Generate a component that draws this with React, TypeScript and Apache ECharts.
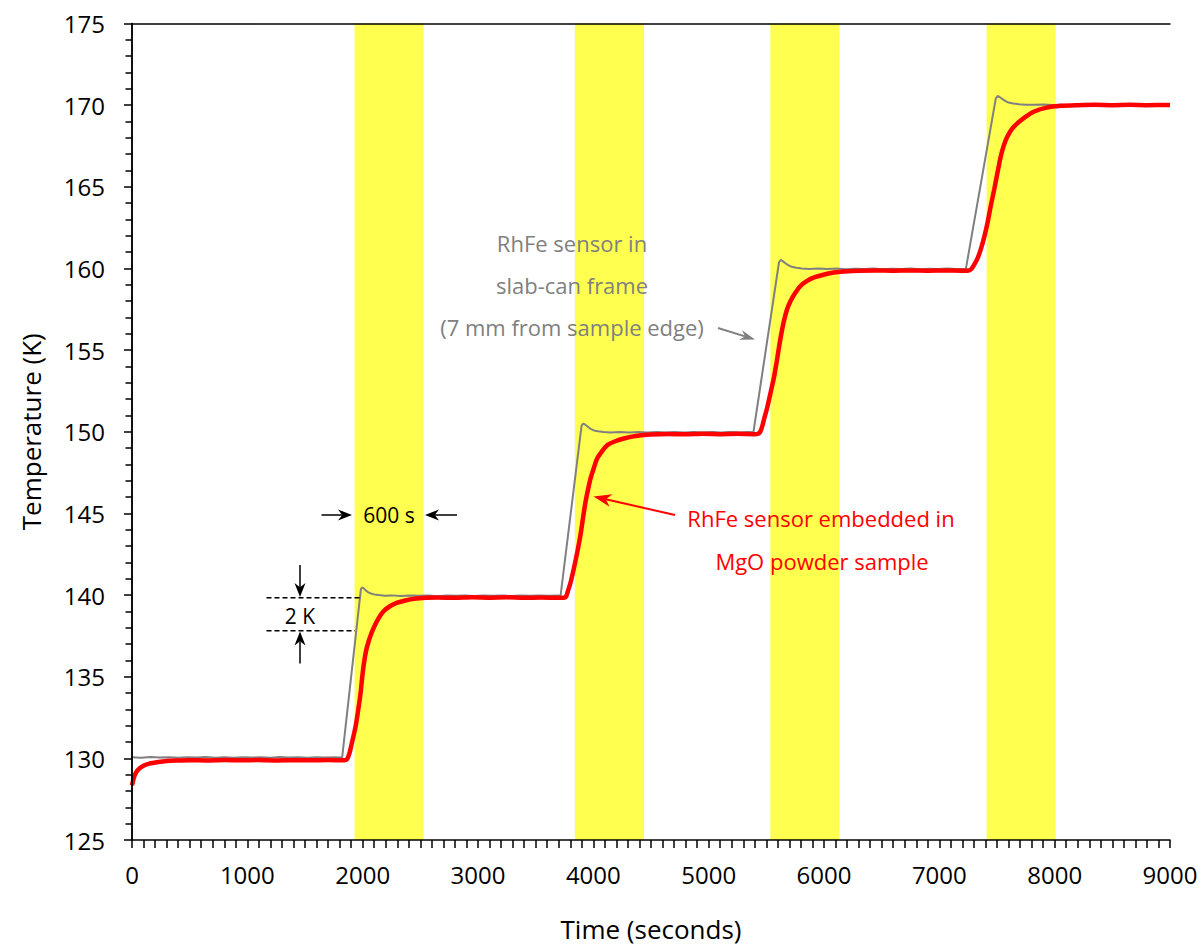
import React, { useEffect, useRef } from "react";
import * as echarts from "echarts";

// ---- Data ----
const bandStart = [1930, 3840, 5535, 7410];
const bandWidth = 600;

const grayTime = [
  0, 80, 160, 240, 320, 400, 480, 560, 640, 720, 800, 880, 960, 1040, 1120, 1200, 1280, 1360, 1440, 1520, 1600, 1680, 1760, 1822,
  1985, 1995, 2008, 2025, 2045, 2070, 2100, 2140, 2190, 2250, 2330, 2410, 2490, 2570, 2650, 2730, 2810, 2890, 2970, 3050, 3130, 3210, 3290, 3370, 3450, 3530, 3610, 3680, 3716,
  3898, 3912, 3928, 3950, 3975, 4005, 4040, 4090, 4150, 4230, 4310, 4390, 4470, 4550, 4630, 4710, 4790, 4870, 4950, 5030, 5110, 5190, 5270, 5340, 5388,
  5610, 5625, 5642, 5665, 5690, 5720, 5760, 5810, 5870, 5950, 6030, 6110, 6190, 6270, 6350, 6430, 6510, 6590, 6670, 6750, 6830, 6910, 6990, 7070, 7150, 7230,
  7490, 7505, 7522, 7545, 7570, 7600, 7640, 7690, 7750, 7820, 7900, 7980, 8060, 8140, 8220, 8300, 8380, 8460, 8540, 8620, 8700, 8780, 8860, 8940, 9000,
];
const grayTemp = [
  130.06, 130.04, 130.08, 130.05, 130.07, 130.03, 130.06, 130.05, 130.08, 130.04, 130.06, 130.03, 130.07, 130.05, 130.06, 130.04, 130.08, 130.05, 130.06, 130.03, 130.07, 130.05, 130.06, 130.05,
  140.38, 140.46, 140.42, 140.3, 140.18, 140.1, 140.04, 140.0, 139.96, 139.98, 139.94, 139.97, 139.95, 139.98, 139.93, 139.97, 139.95, 139.98, 139.94, 139.97, 139.95, 139.98, 139.94, 139.97, 139.95, 139.98, 139.96, 139.97, 139.96,
  150.38, 150.5, 150.45, 150.32, 150.18, 150.08, 150.03, 149.99, 149.96, 149.98, 149.95, 149.98, 149.96, 149.99, 149.95, 149.98, 149.96, 149.99, 149.95, 149.98, 149.96, 149.99, 149.96, 149.98, 149.97,
  160.38, 160.52, 160.45, 160.32, 160.2, 160.1, 160.04, 160.0, 159.97, 159.99, 159.96, 159.99, 159.95, 159.98, 159.96, 159.99, 159.95, 159.98, 159.96, 159.99, 159.95, 159.98, 159.96, 159.99, 159.96, 159.97,
  170.42, 170.56, 170.5, 170.38, 170.26, 170.16, 170.1, 170.06, 170.03, 170.02, 170.04, 170.01, 170.03, 170.0, 170.04, 170.02, 170.0, 170.03, 170.01, 170.04, 170.02, 170.0, 170.03, 170.01, 170.02,
];

const redTime = [
  0, 15, 30, 60, 100, 150, 230, 300, 380, 500, 650, 800, 950, 1100, 1250, 1400, 1550, 1700, 1840,
  1865, 1885, 1905, 1925, 1940, 1960, 1981, 1995, 2010, 2030, 2053, 2075, 2096, 2140, 2183, 2240, 2300, 2370, 2445, 2550, 2650, 2800, 2950, 3100, 3250, 3400, 3550, 3700, 3745,
  3765, 3782, 3802, 3832, 3860, 3889, 3910, 3933, 3955, 3976, 4005, 4034, 4075, 4121, 4190, 4265, 4380, 4500, 4650, 4800, 4950, 5100, 5250, 5400, 5425,
  5445, 5463, 5485, 5509, 5540, 5567, 5590, 5610, 5630, 5653, 5680, 5711, 5750, 5798, 5850, 5914, 6030, 6146, 6300, 6450, 6600, 6750, 6900, 7050, 7200, 7255,
  7278, 7300, 7330, 7360, 7390, 7418, 7445, 7476, 7505, 7533, 7560, 7591, 7630, 7678, 7750, 7823, 7930, 8054, 8200, 8350, 8500, 8650, 8800, 9000,
];
const redTemp = [
  128.35, 128.78, 129.07, 129.35, 129.55, 129.68, 129.78, 129.84, 129.87, 129.89, 129.87, 129.9, 129.88, 129.9, 129.87, 129.89, 129.88, 129.9, 129.88,
  129.95, 130.3, 130.9, 131.5, 132.0, 132.9, 133.94, 134.9, 135.77, 136.6, 137.2, 137.65, 138.0, 138.6, 139.02, 139.33, 139.53, 139.67, 139.77, 139.83, 139.85, 139.83, 139.86, 139.84, 139.86, 139.83, 139.85, 139.83, 139.84,
  139.92, 140.3, 140.75, 141.66, 142.6, 143.7, 144.7, 145.73, 146.5, 147.15, 147.8, 148.37, 148.8, 149.18, 149.42, 149.59, 149.75, 149.83, 149.86, 149.84, 149.87, 149.85, 149.87, 149.85, 149.87,
  149.97, 150.3, 150.9, 151.52, 152.5, 153.35, 154.3, 155.18, 156.0, 156.8, 157.5, 158.02, 158.5, 158.94, 159.22, 159.45, 159.68, 159.8, 159.86, 159.88, 159.86, 159.88, 159.86, 159.88, 159.86, 159.87,
  159.97, 160.2, 160.6, 161.18, 161.95, 162.8, 163.8, 164.84, 165.9, 166.87, 167.55, 168.09, 168.55, 168.9, 169.3, 169.61, 169.85, 169.96, 170.0, 170.02, 170.0, 170.02, 170.0, 170.01,
];

const FONT = '"Open Sans", "Noto Sans", sans-serif';
const GRAY = "#808080";
const RED = "#ff0000";
const YELLOW = "#ffff4f";

function arrow(x1: number, y1: number, x2: number, y2: number, color: string, lw: number, hl: number, hw: number) {
  const dx = x2 - x1, dy = y2 - y1;
  const len = Math.hypot(dx, dy);
  const ux = dx / len, uy = dy / len;
  const px = -uy, py = ux;
  const bx = x2 - ux * hl, by = y2 - uy * hl;
  const nx = x2 - ux * hl * 0.7, ny = y2 - uy * hl * 0.7;
  return [
    { type: "line", silent: true, z: 100, shape: { x1, y1, x2: nx, y2: ny }, style: { stroke: color, lineWidth: lw } },
    {
      type: "polygon", silent: true, z: 100,
      shape: { points: [[x2, y2], [bx + (px * hw) / 2, by + (py * hw) / 2], [nx, ny], [bx - (px * hw) / 2, by - (py * hw) / 2]] },
      style: { fill: color },
    },
  ];
}

function txt(text: string, x: number, y: number, color: string, size: number) {
  return {
    type: "text", silent: true, z: 100, x, y,
    style: { text, fill: color, fontSize: size, fontFamily: FONT, align: "center", verticalAlign: "middle" },
  };
}

export default function App() {
  const ref = useRef<HTMLDivElement>(null);
  useEffect(() => {
    if (!ref.current) return;
    const chart = echarts.init(ref.current, undefined, { renderer: "svg" });
    const gray = grayTime.map((t, i) => [t, grayTemp[i]]);
    const red = redTime.map((t, i) => [t, redTemp[i]]);
    const bands = bandStart.map((s) => [{ xAxis: s }, { xAxis: s + bandWidth }]);

    const axisLine = { show: true, lineStyle: { color: "#000", width: 1.5 } };
    const graphic: any[] = [
      txt("RhFe sensor in", 572, 243, GRAY, 22),
      txt("slab-can frame", 572, 285, GRAY, 22),
      txt("(7 mm from sample edge)", 572, 327, GRAY, 22),
      ...arrow(718, 328, 755, 339.5, GRAY, 2, 15, 10),
      txt("RhFe sensor embedded in", 821, 518, RED, 22),
      txt("MgO powder sample", 822, 561, RED, 22),
      ...arrow(675, 515, 593.5, 496.5, RED, 2, 18, 13),
      txt("600 s", 389, 515, "#000", 21),
      ...arrow(321.5, 515, 352, 515, "#000", 1.5, 14, 11),
      ...arrow(457, 515, 425, 515, "#000", 1.5, 14, 11),
      txt("2 K", 300, 616, "#000", 21),
      { type: "line", silent: true, z: 100, shape: { x1: 266.5, y1: 597.7, x2: 360, y2: 597.7 }, style: { stroke: "#000", lineWidth: 1.5, lineDash: [5, 3] } },
      { type: "line", silent: true, z: 100, shape: { x1: 266.5, y1: 630.7, x2: 355, y2: 630.7 }, style: { stroke: "#000", lineWidth: 1.5, lineDash: [5, 3] } },
      ...arrow(300, 565, 300, 597, "#000", 1.5, 14, 11),
      ...arrow(300, 663.5, 300, 631.5, "#000", 1.5, 14, 11),
    ];

    chart.setOption({
      animation: false,
      backgroundColor: "#fff",
      textStyle: { fontFamily: FONT },
      grid: { left: 132, top: 23.5, width: 1038, height: 820, containLabel: false },
      xAxis: [
        {
          type: "value", min: 0, max: 9000, interval: 1000, position: "bottom", z: 10,
          axisLine,
          axisTick: { show: true, length: 8, lineStyle: { color: "#000", width: 1.5 } },
          minorTick: { show: true, splitNumber: 10, length: 8, lineStyle: { color: "#000", width: 1.5 } },
          splitLine: { show: false },
          axisLabel: { color: "#000", fontSize: 24, fontFamily: FONT, margin: 22, formatter: (v: number) => String(v) },
          name: "Time (seconds)", nameLocation: "middle", nameGap: 76,
          nameTextStyle: { color: "#000", fontSize: 26, fontFamily: FONT },
        },
        {
          type: "value", min: 0, max: 9000, position: "top", z: 10,
          axisLine, axisTick: { show: false }, axisLabel: { show: false }, splitLine: { show: false },
        },
      ],
      yAxis: [
        {
          type: "value", min: 125, max: 175, interval: 5, position: "left", z: 10,
          axisLine,
          axisTick: { show: true, length: 8, lineStyle: { color: "#000", width: 1.5 } },
          minorTick: { show: true, splitNumber: 5, length: 6.5, lineStyle: { color: "#000", width: 1.5 } },
          splitLine: { show: false },
          axisLabel: { color: "#000", fontSize: 24, fontFamily: FONT, margin: 27, formatter: (v: number) => String(v) },
          name: "Temperature (K)", nameLocation: "middle", nameGap: 88, nameRotate: 90,
          nameTextStyle: { color: "#000", fontSize: 26, fontFamily: FONT },
        },
        {
          type: "value", min: 125, max: 175, position: "right", z: 10,
          axisLine, axisTick: { show: false }, axisLabel: { show: false }, splitLine: { show: false },
        },
      ],
      series: [
        {
          type: "line", data: [], z: 1, silent: true,
          markArea: { silent: true, itemStyle: { color: YELLOW, opacity: 1 }, data: bands },
        },
        {
          type: "line", data: gray, showSymbol: false, z: 2, silent: true,
          lineStyle: { color: GRAY, width: 2 },
        },
        {
          type: "line", data: red, showSymbol: false, z: 3, silent: true, smooth: 0.25,
          lineStyle: { color: RED, width: 4.5 },
        },
      ],
      graphic,
    });
    return () => chart.dispose();
  }, []);
  return <div ref={ref} style={{ position: "fixed", left: 0, top: 0, width: 1201, height: 947 }} />;
}
